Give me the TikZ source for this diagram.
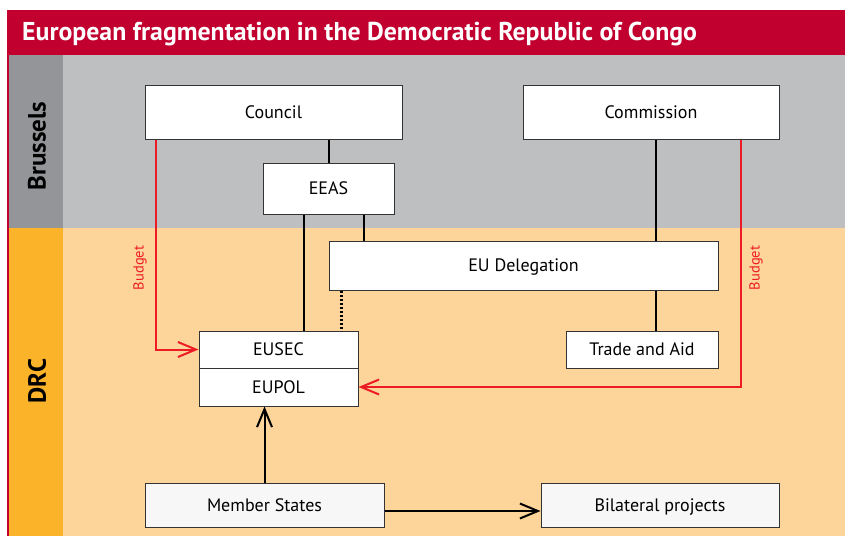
\documentclass[tikz,border=0pt]{standalone}
\usepackage{fontspec}
\setmainfont{PT Sans}
\usetikzlibrary{arrows.meta}
\definecolor{titlered}{HTML}{C1002F}
\definecolor{bgray}{HTML}{BEBFC1}
\definecolor{dgray}{HTML}{939598}
\definecolor{lorange}{HTML}{FDD49A}
\definecolor{dorange}{HTML}{FBB42A}
\definecolor{budgetred}{HTML}{ED1C24}
\definecolor{boxline}{HTML}{333333}
\tikzset{
  x=1pt, y=-1pt,
  box/.style={draw=boxline, fill=white, line width=1pt, inner sep=0pt, font=\fontsize{18}{21}\selectfont, text height=12.6pt, text depth=0pt},
  conn/.style={draw=black, line width=2pt},
  budget/.style={draw=budgetred, line width=2pt, -{Straight Barb[length=18pt,width=15pt,line width=2pt]}},
  blackarrow/.style={draw=black, line width=2pt, -{Straight Barb[length=18pt,width=15pt,line width=2pt]}},
  budgetlabel/.style={text=budgetred, rotate=90, font=\fontsize{14.5}{16}\selectfont, inner sep=0pt},
  region/.style={font=\bfseries\fontsize{25}{28}\selectfont, rotate=90, inner sep=0pt}
}
\begin{document}
\begin{tikzpicture}
\useasboundingbox (0,0) rectangle (845,538);
% background bands
\fill[white] (0,0) rectangle (845,538);
\fill[titlered] (7,10) rectangle (845,55);
\fill[bgray] (63,55) rectangle (845,228);
\fill[dgray] (8.5,55) rectangle (63,228);
\fill[lorange] (63,228) rectangle (845,536);
\fill[dorange] (8.5,228) rectangle (63,536);
\fill[titlered] (7,10) rectangle (8.5,536);
\node[anchor=west, text=white, font=\bfseries\fontsize{25.8}{30}\selectfont, inner sep=0pt] (title) at (22,34) {European fragmentation in the Democratic Republic of Congo};
\node[region] (brussels) at (37,146) {Brussels};
\node[region] (drc) at (37,381) {DRC};
% boxes
\node[box, minimum width=257pt, minimum height=54pt] (council) at (273.5,112) {Council};
\node[box, minimum width=256pt, minimum height=54pt] (commission) at (651,112) {Commission};
\node[box, minimum width=131pt, minimum height=51pt] (eeas) at (328.5,188.5) {EEAS};
\node[box, minimum width=389pt, minimum height=49pt] (eudel) at (523.5,265.5) {EU Delegation};
\node[box, minimum width=159pt, minimum height=37pt] (eusec) at (278.5,349.5) {EUSEC};
\node[box, minimum width=159pt, minimum height=38pt] (eupol) at (278.5,387) {EUPOL};
\node[box, minimum width=152pt, minimum height=37pt] (trade) at (642,349.5) {Trade and Aid};
\node[box, fill=black!3, minimum width=239pt, minimum height=44pt] (member) at (264.5,505) {Member States};
\node[box, fill=black!3, minimum width=238pt, minimum height=44pt] (bilateral) at (660,505) {Bilateral projects};
% connectors
\draw[conn] (eeas.north) -- (eeas.north |- council.south);
\draw[conn] ([xshift=-24.5pt]eeas.south) coordinate (e1) -- (e1 |- eusec.north);
\draw[conn] ([xshift=35.5pt]eeas.south) coordinate (e2) -- (e2 |- eudel.north);
\draw[draw=black, line width=2.5pt, dash pattern=on 2pt off 2pt] ([xshift=13pt]eudel.south west) coordinate (d1) -- (d1 |- eusec.north);
\draw[conn] ([xshift=5pt]commission.south) coordinate (c1) -- (c1 |- eudel.north);
\draw[conn] (c1 |- eudel.south) -- (c1 |- trade.north);
\draw[budget] ([xshift=11pt]council.south west) |- (eusec.west);
\draw[budget] ([xshift=-39pt]commission.south east) |- (eupol.east);
\node[budgetlabel] (bl) at (140,268) {Budget};
\node[budgetlabel] (br) at (756,268) {Budget};
\draw[blackarrow] (member.north) -- (member.north |- eupol.south);
\draw[blackarrow] ([yshift=-6pt]member.east) coordinate (m1) -- (m1 -| bilateral.west);
\end{tikzpicture}
\end{document}
